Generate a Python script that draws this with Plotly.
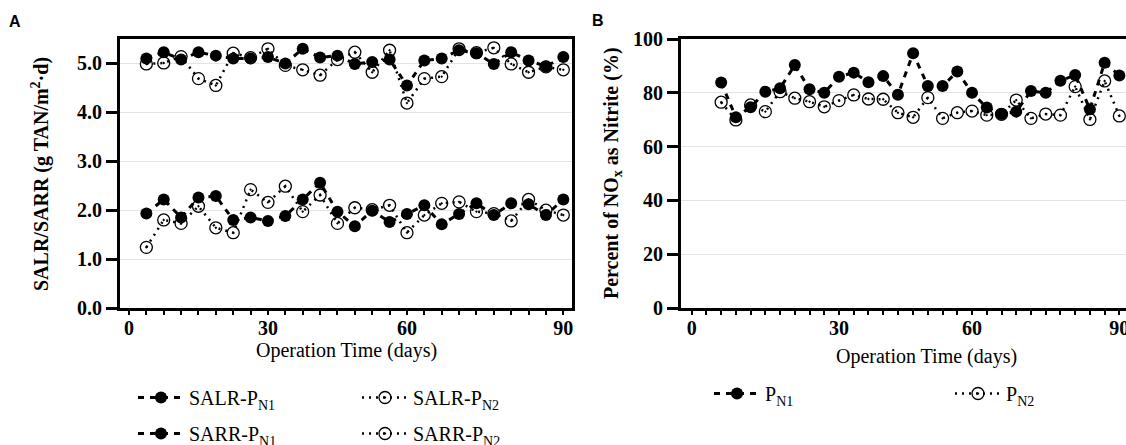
import plotly.graph_objects as go

# ---------------- data ----------------
# Panel A: sampling days (evenly spaced samples)
days_A = [3.6, 7.2, 10.8, 14.4, 18.0, 21.6, 25.2, 28.8, 32.4, 36.0, 39.6, 43.2, 46.8,
          50.4, 54.0, 57.6, 61.2, 64.8, 68.4, 72.0, 75.6, 79.2, 82.8, 86.4, 90.0]
salr_pn1 = [5.10, 5.23, 5.08, 5.23, 5.16, 5.10, 5.10, 5.13, 5.00, 5.30, 5.12, 5.16, 4.99,
            5.03, 5.08, 4.55, 5.06, 5.10, 5.27, 5.21, 4.99, 5.23, 5.06, 4.94, 5.13]
salr_pn2 = [4.99, 5.01, 5.14, 4.69, 4.55, 5.21, 5.12, 5.30, 4.96, 4.87, 4.76, 5.08, 5.23,
            4.82, 5.27, 4.19, 4.69, 4.73, 5.30, 5.22, 5.32, 4.99, 4.82, 4.93, 4.87]
sarr_pn1 = [1.93, 2.22, 1.85, 2.26, 2.29, 1.80, 1.85, 1.78, 1.88, 2.22, 2.56, 1.97, 1.67,
            1.99, 1.76, 1.92, 2.10, 1.71, 1.92, 2.14, 1.90, 2.14, 2.12, 1.90, 2.22]
sarr_pn2 = [1.24, 1.80, 1.73, 2.08, 1.64, 1.54, 2.42, 2.16, 2.49, 1.97, 2.31, 1.73, 2.05,
            2.01, 2.10, 1.54, 1.90, 2.14, 2.17, 1.97, 1.93, 1.78, 2.22, 2.00, 1.90]

# Panel B
days_B = [6.2, 9.3, 12.4, 15.5, 18.6, 21.7, 24.8, 27.9, 31.0, 34.1, 37.2, 40.3, 43.4, 46.6,
          49.7, 52.8, 55.9, 59.0, 62.1, 65.2, 68.3, 71.4, 74.5, 77.6, 80.7, 83.8, 86.9, 90.0]
pn1_pct = [83.8, 70.9, 74.6, 80.4, 81.7, 90.3, 81.3, 80.0, 86.0, 87.5, 83.9, 86.2, 79.3, 94.7,
           82.5, 82.5, 87.9, 80.0, 74.5, 72.1, 73.0, 80.7, 80.0, 84.5, 86.6, 73.9, 91.2, 86.4]
pn2_pct = [76.5, 69.9, 75.5, 73.0, 80.4, 78.0, 76.7, 74.8, 77.1, 79.2, 77.7, 77.6, 72.6, 70.9,
           78.2, 70.5, 72.6, 73.2, 71.7, 72.0, 77.3, 70.5, 72.1, 71.7, 82.3, 70.1, 84.4, 71.4]

# axis ticks (day positions) and their labels
ticks_A = [0.0] + days_A
labels_A = {0.0: "0", 28.8: "30", 57.6: "60", 90.0: "90"}
ticks_B = [0.0, 3.1] + days_B
labels_B = {0.0: "0", 31.0: "30", 59.0: "60", 90.0: "90"}

yticks_A = [0, 1, 2, 3, 4, 5]
yticks_B = [0, 20, 40, 60, 80, 100]

# ---------------- styling ----------------
W, H = 1126, 445
SERIF = "Liberation Serif"
N1_LINE = dict(color="black", width=3, dash="6px,6px")
N2_LINE = dict(color="black", width=2.5, dash="2px,5px")
N1_MARK = dict(symbol="circle", size=12, color="black")
N2_MARK = dict(symbol="circle-open-dot", size=12, color="black", line=dict(width=1.3, color="black"))

fig = go.Figure()

def add(x, y, name, line, marker, xa, ya, legend, group):
    fig.add_trace(go.Scatter(x=x, y=y, name=name, mode="lines+markers", line=line,
                             marker=marker, xaxis=xa, yaxis=ya, legend=legend,
                             legendgroup=group))

# open (N2) first so filled markers sit on top
add(days_A, salr_pn2, "SALR-P<sub>N2</sub>", N2_LINE, N2_MARK, "x", "y", "legend2", "a")
add(days_A, sarr_pn2, "SARR-P<sub>N2</sub>", N2_LINE, N2_MARK, "x", "y", "legend2", "b")
add(days_A, salr_pn1, "SALR-P<sub>N1</sub>", N1_LINE, N1_MARK, "x", "y", "legend", "c")
add(days_A, sarr_pn1, "SARR-P<sub>N1</sub>", N1_LINE, N1_MARK, "x", "y", "legend", "d")
add(days_B, pn2_pct, "P<sub>N2</sub>", N2_LINE, N2_MARK, "x2", "y2", "legend4", "e")
add(days_B, pn1_pct, "P<sub>N1</sub>", N1_LINE, N1_MARK, "x2", "y2", "legend3", "f")

def px(x):
    return x / W

def py(y):
    return 1 - y / H

tickfont = dict(family=SERIF, size=20, color="black", weight="bold")

xcommon = dict(showline=True, linewidth=3, linecolor="black", ticks="outside", ticklen=4,
               tickwidth=2, tickcolor="black", showgrid=False, zeroline=False,
               tickfont=tickfont, tickmode="array", automargin=False, ticklabelstandoff=-4,
               ticklabeloverflow="allow")
ycommon = dict(showline=True, linewidth=3, linecolor="black", ticks="outside", ticklen=11,
               tickwidth=2.5, tickcolor="black", showgrid=True, gridcolor="#e3e3e3",
               gridwidth=1.2, zeroline=False, tickfont=tickfont, tickmode="array",
               automargin=False)

fig.update_layout(
    width=W, height=H, margin=dict(l=0, r=0, t=0, b=0, autoexpand=False),
    paper_bgcolor="white", plot_bgcolor="white",
    xaxis=dict(xcommon, domain=[px(120), px(572)], range=[-1.86, 91.8], mirror=True,
               anchor="y", tickvals=ticks_A, ticktext=[labels_A.get(t, "") for t in ticks_A]),
    yaxis=dict(ycommon, domain=[py(308), py(39)], range=[0, 5.5], mirror=True, anchor="x",
               tickvals=yticks_A, ticktext=[f"{v:.1f}" for v in yticks_A]),
    xaxis2=dict(xcommon, domain=[px(681), 1.0], range=[-2.25, 91.4], mirror=True,
                anchor="y2", tickvals=ticks_B, ticktext=[labels_B.get(t, "") for t in ticks_B]),
    yaxis2=dict(ycommon, domain=[py(308), py(39)], range=[0, 100], mirror=False, anchor="x2",
                tickvals=yticks_B, ticktext=[str(v) for v in yticks_B]),
    showlegend=True,
)

legend_style = dict(font=dict(family=SERIF, size=20, color="black"), bgcolor="rgba(0,0,0,0)",
                    orientation="v", tracegroupgap=7, xanchor="left", yanchor="top",
                    itemwidth=46)
fig.update_layout(
    legend=dict(legend_style, x=px(133), y=py(378)),
    legend2=dict(legend_style, x=px(357), y=py(378)),
    legend3=dict(legend_style, x=px(709), y=py(374)),
    legend4=dict(legend_style, x=px(950), y=py(374)),
)

def note(text, x, y, size=20, bold=False, family=SERIF, angle=0):
    font = dict(family=family, size=size, color="black")
    if bold:
        font["weight"] = "bold"
    return dict(text=text, x=px(x), y=py(y), xref="paper", yref="paper", showarrow=False,
                xanchor="center", yanchor="middle", textangle=angle, font=font)

ann = [
    note("Operation Time (days)", 346, 350),
    note("Operation Time (days)", 926, 356),
    note("SALR/SARR (g TAN/m<sup>2</sup>·d)", 40, 174, bold=True, angle=-90),
    note("Percent of NO<sub>x</sub> as Nitrite (%)", 612, 173, bold=True, angle=-90),
    note("A", 15, 22, size=16, bold=True, family="Liberation Sans"),
    note("B", 598, 21, size=16, bold=True, family="Liberation Sans"),
]
fig.update_layout(annotations=ann)

fig.write_html("out.html", config={"displayModeBar": False},
               post_script="document.body.style.margin='0';")
